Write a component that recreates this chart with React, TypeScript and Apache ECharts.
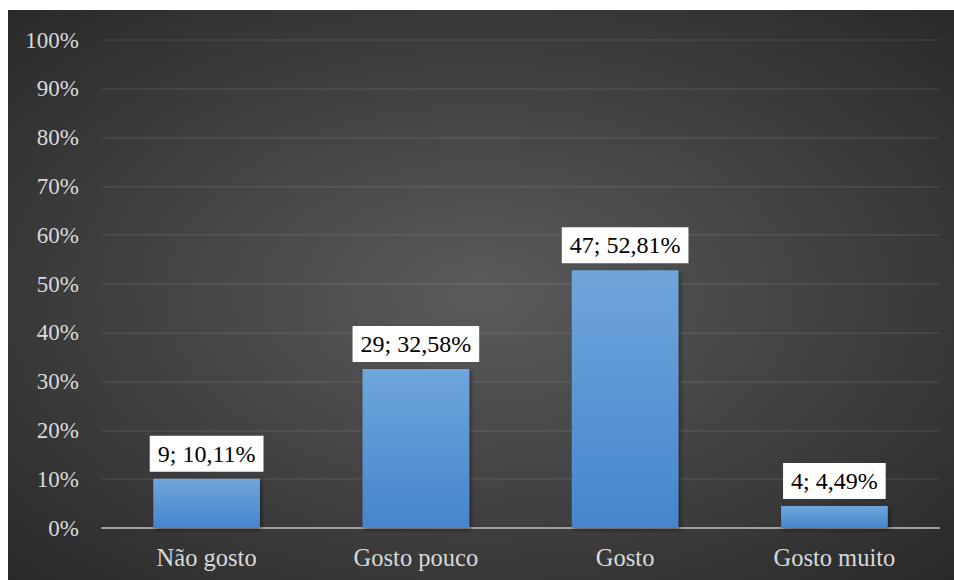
import React, { useEffect, useRef } from "react";
import * as echarts from "echarts";

const categories = ["Não gosto", "Gosto pouco", "Gosto", "Gosto muito"];
const counts = [9, 29, 47, 4];
const percents = [10.11, 32.58, 52.81, 4.49];

const FONT = "Liberation Serif";

export default function App() {
  const ref = useRef<HTMLDivElement>(null);
  useEffect(() => {
    if (!ref.current) return;
    const chart = echarts.init(ref.current, undefined, { renderer: "svg" });
    chart.setOption({
      animation: false,
      textStyle: { fontFamily: FONT },
      backgroundColor: {
        type: "radial",
        x: 0.5,
        y: 0.5,
        r: 0.75,
        colorStops: [
          { offset: 0, color: "#5b5b5b" },
          { offset: 1, color: "#262626" },
        ],
      },
      grid: { left: 94, right: 15, top: 30, bottom: 52 },
      xAxis: {
        type: "category",
        data: categories,
        axisTick: { show: false },
        axisLine: { lineStyle: { color: "#a0a0a0", width: 2 } },
        axisLabel: { color: "#d9d9d9", fontFamily: FONT, fontSize: 24.5, margin: 17 },
      },
      yAxis: {
        type: "value",
        min: 0,
        max: 100,
        interval: 10,
        axisLabel: {
          color: "#d9d9d9",
          fontFamily: FONT,
          fontSize: 23,
          margin: 23,
          formatter: (v: number) => `${v}%`,
        },
        splitLine: { lineStyle: { color: "rgba(255,255,255,0.09)", width: 1.5 } },
        axisLine: { show: false },
        axisTick: { show: false },
      },
      series: [
        {
          type: "bar",
          data: percents,
          barWidth: "51%",
          itemStyle: {
            color: {
              type: "linear",
              x: 0,
              y: 0,
              x2: 0,
              y2: 1,
              colorStops: [
                { offset: 0, color: "#6fa6db" },
                { offset: 1, color: "#4585cc" },
              ],
            },
            shadowBlur: 4,
            shadowColor: "rgba(0,0,0,0.4)",
            shadowOffsetX: 2,
            shadowOffsetY: 2,
          },
          label: {
            show: true,
            position: "top",
            distance: 7,
            backgroundColor: "#ffffff",
            color: "#000000",
            fontFamily: FONT,
            fontSize: 24,
            lineHeight: 24,
            padding: [6, 8, 6, 8],
            formatter: (p: any) =>
              `${counts[p.dataIndex]}; ${percents[p.dataIndex].toFixed(2).replace(".", ",")}%`,
          },
        },
      ],
    });
    return () => chart.dispose();
  }, []);
  return (
    <div
      ref={ref}
      style={{ position: "absolute", left: 8, top: 10, width: 946, height: 570 }}
    />
  );
}
